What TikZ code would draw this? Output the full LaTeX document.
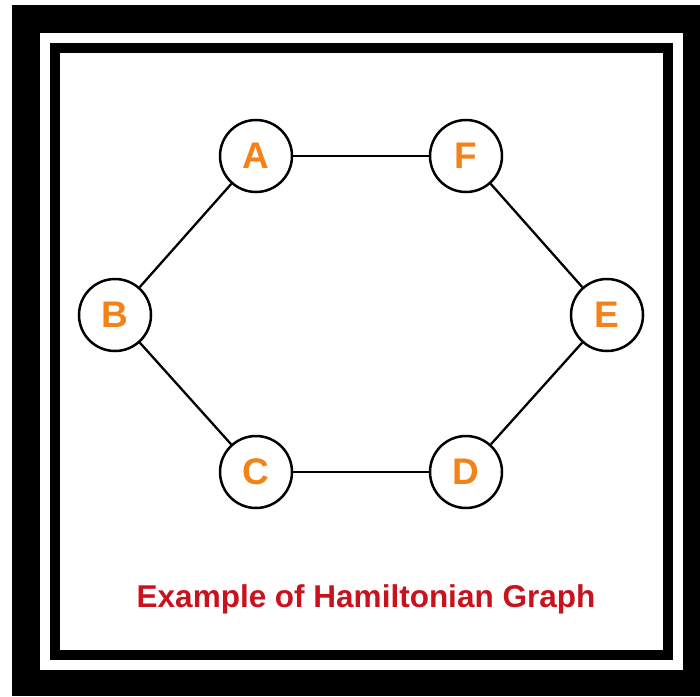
\documentclass[tikz,border=0pt]{standalone}
\usepackage{fontspec}
\setmainfont{Liberation Sans}
\definecolor{titlered}{RGB}{200,18,30}
\definecolor{nodeorange}{RGB}{245,130,25}
\begin{document}
\begin{tikzpicture}[x=1pt,y=-1pt,
  vert/.style={circle,draw=black,line width=2.5pt,fill=white,minimum size=72pt,inner sep=0pt,
    text=nodeorange,font=\fontsize{37}{37}\selectfont\bfseries},
  edge/.style={line width=2.3pt}]
\useasboundingbox (0,0) rectangle (700,696);
\fill[white] (0,0) rectangle (700,696);
\fill[black] (12,5) rectangle (700,696);
\fill[white] (40,33) rectangle (683,670);
\fill[black] (50,43) rectangle (673,660);
\fill[white] (60,53) rectangle (663,650);
\node[vert] (A) at (256,156) {A};
\node[vert] (F) at (466,156) {F};
\node[vert] (B) at (115,315) {B};
\node[vert] (E) at (607,315) {E};
\node[vert] (C) at (256,472) {C};
\node[vert] (D) at (466,472) {D};
\draw[edge] (A) -- (F);
\draw[edge] (F) -- (E);
\draw[edge] (E) -- (D);
\draw[edge] (D) -- (C);
\draw[edge] (C) -- (B);
\draw[edge] (B) -- (A);
\node[text=titlered,font=\fontsize{31.5}{31.5}\selectfont\bfseries] (T) at (366,599) {Example of Hamiltonian Graph};
\end{tikzpicture}
\end{document}
